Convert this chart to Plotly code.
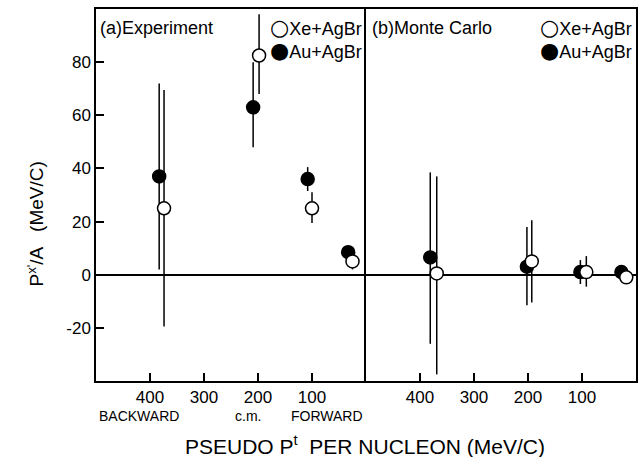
import plotly.graph_objects as go
from plotly.subplots import make_subplots

# ---- data ----
# Panel (a) Experiment
exp_au_x = [383, 209, 108, 33]
exp_au_y = [37, 63, 36, 8.5]
exp_au_up = [35, 17, 4.5, 2]
exp_au_dn = [35, 15, 4.5, 2]

exp_xe_x = [374, 198, 100, 25]
exp_xe_y = [25, 82.5, 25, 5]
exp_xe_up = [44.5, 15.5, 6, 3]
exp_xe_dn = [44.5, 14.5, 5.5, 3]

# Panel (b) Monte Carlo
mc_au_x = [381, 202, 103, 27]
mc_au_y = [6.5, 3, 1, 1]
mc_au_up = [32, 15, 4.5, 1.5]
mc_au_dn = [32.5, 14.5, 4.5, 1.5]

mc_xe_x = [369, 193, 92, 18]
mc_xe_y = [0.5, 5, 1, -1]
mc_xe_up = [36.5, 15.5, 6, 1.5]
mc_xe_dn = [38, 15.5, 5.5, 1.5]

x_ticks = [400, 300, 200, 100]
y_ticks = [-20, 0, 20, 40, 60, 80]
y_tick_text = ["-20", "0", "20", "40", "60", "80"]

FONT = "Liberation Sans"

fig = make_subplots(rows=1, cols=2, horizontal_spacing=0, shared_yaxes=True)


def add_series(col, xs, ys, up, dn, filled, name):
    fig.add_trace(
        go.Scatter(
            x=xs, y=ys, mode="markers", name=name, showlegend=False,
            marker=dict(symbol="circle", size=13,
                        color="black" if filled else "white",
                        line=dict(color="black", width=1.5)),
            error_y=dict(type="data", symmetric=False, array=up, arrayminus=dn,
                         width=0, thickness=1.5, color="black"),
        ),
        row=1, col=col,
    )


add_series(1, exp_au_x, exp_au_y, exp_au_up, exp_au_dn, True, "Au+AgBr")
add_series(1, exp_xe_x, exp_xe_y, exp_xe_up, exp_xe_dn, False, "Xe+AgBr")
add_series(2, mc_au_x, mc_au_y, mc_au_up, mc_au_dn, True, "Au+AgBr")
add_series(2, mc_xe_x, mc_xe_y, mc_xe_up, mc_xe_dn, False, "Xe+AgBr")

axis_common = dict(showline=True, linecolor="black", linewidth=1.5,
                   showgrid=False, ticks="inside", ticklen=8, tickwidth=1.5,
                   tickcolor="black", tickfont=dict(family=FONT, size=17, color="black"))

fig.update_xaxes(range=[500, 0], tickvals=x_ticks, zeroline=False, mirror=True, **axis_common)
fig.update_yaxes(range=[-40, 100], tickvals=y_ticks, ticktext=y_tick_text, zeroline=True,
                 zerolinecolor="black", zerolinewidth=1.5, **axis_common)
fig.update_yaxes(mirror=False, row=1, col=1)
fig.update_yaxes(showticklabels=False, ticks="", mirror=True, row=1, col=2)

ann = []
txt_font = dict(family=FONT, size=18, color="black")
ann.append(dict(text="(a)Experiment", xref="paper", yref="paper", x=0.003, y=0.95,
                xanchor="left", yanchor="middle", showarrow=False, font=txt_font))
ann.append(dict(text="(b)Monte Carlo", xref="paper", yref="paper", x=0.507, y=0.95,
                xanchor="left", yanchor="middle", showarrow=False, font=txt_font))
circ = '<span style="font-family:DejaVu Sans;font-size:22px">%s</span>'
for xr in (0.497, 0.996):
    ann.append(dict(text=(circ % "○") + "Xe+AgBr", xref="paper", yref="paper", x=xr, y=0.95,
                    xanchor="right", yanchor="middle", showarrow=False, font=txt_font))
    ann.append(dict(text=(circ % "●") + "Au+AgBr", xref="paper", yref="paper", x=xr, y=0.888,
                    xanchor="right", yanchor="middle", showarrow=False, font=txt_font))

small = dict(family=FONT, size=14, color="black")
ann.append(dict(text="BACKWARD", xref="x", yref="paper", x=420, y=-0.095,
                xanchor="center", yanchor="middle", showarrow=False, font=small))
ann.append(dict(text="c.m.", xref="x", yref="paper", x=219, y=-0.095,
                xanchor="center", yanchor="middle", showarrow=False, font=small))
ann.append(dict(text="FORWARD", xref="x", yref="paper", x=72, y=-0.095,
                xanchor="center", yanchor="middle", showarrow=False, font=small))

ann.append(dict(text="PSEUDO P<sup>t</sup>  PER NUCLEON (MeV/C)", xref="paper", yref="paper",
                x=0.499, y=-0.172, xanchor="center", yanchor="middle", showarrow=False,
                font=dict(family=FONT, size=21, color="black")))
ann.append(dict(text="P<sup>x'</sup>/A   (MeV/C)", xref="paper", yref="paper",
                x=-0.112, y=0.422, xanchor="center", yanchor="middle", textangle=-90,
                showarrow=False, font=dict(family=FONT, size=19, color="black")))

fig.update_layout(
    width=640, height=457,
    margin=dict(l=96, r=2, t=9, b=76),
    paper_bgcolor="white", plot_bgcolor="white",
    annotations=ann,
    showlegend=False,
)

fig.write_html("out.html")
